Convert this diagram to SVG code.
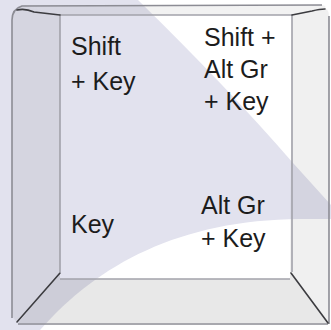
<svg xmlns="http://www.w3.org/2000/svg" width="331" height="330" viewBox="0 0 331 330">
<style>
.lbl{font-family:"Liberation Sans",Arial,sans-serif;font-size:25px;fill:#1c1c1c}
.edge{fill:none;stroke:#8c8c94;stroke-width:1.6}
.inner{fill:none;stroke:#a2a2aa;stroke-width:1.6}
.diag{fill:none;stroke:#3c3c40;stroke-width:1.6;stroke-linecap:round}
</style>
<g id="background">
<rect x="0" y="0" width="331" height="330" fill="#e2e2ee"/>
<path d="M138,0 Q228,88 293,163 L331,205 L331,0 Z" fill="#ffffff"/>
<path d="M40,330 C98,264 180,220 300,219 L331,219 L331,330 Z" fill="#ffffff"/>
</g>
<g id="key">
<path d="M12,20 Q12,6 24,5 L60,15 L60,272 L17,322 Q12,318 12,312 Z" fill="#000" fill-opacity="0.055"/>
<path d="M292,15 L325,8 Q329,10 329,16 L329,324 L290,272 Z" fill="#000" fill-opacity="0.06"/>
<path d="M60,272 L60,279 L290,279 L290,272 L328,323 L18,323 Z" fill="#000" fill-opacity="0.09"/>
<path d="M24,5 L322,5 Q327,6 325,8 L292,15 L60,15 Z" fill="#000" fill-opacity="0.05"/>
<path class="edge" d="M12,318 L12,20 Q12,9 22,6 L322,5"/>
<path class="edge" d="M329,16 L329,324 M18,324 L328,324"/>
<path class="inner" d="M60,272 L60,15 L292,15 L292,272 M60,279 L290,279"/>
<path class="diag" d="M17,10 Q25,8 34,12 L60,15 M292,15 L312,11 Q320,9 325,9"/>
<path class="diag" d="M60,273 L17,322 M291,273 L328,323"/>
</g>
<g id="labels">
<text class="lbl" x="71" y="55">Shift</text>
<text class="lbl" x="71" y="90">+ Key</text>
<text class="lbl" x="204" y="46">Shift +</text>
<text class="lbl" x="204" y="78">Alt Gr</text>
<text class="lbl" x="204" y="110">+ Key</text>
<text class="lbl" x="71" y="233">Key</text>
<text class="lbl" x="201" y="214">Alt Gr</text>
<text class="lbl" x="201" y="247">+ Key</text>
</g>
</svg>
